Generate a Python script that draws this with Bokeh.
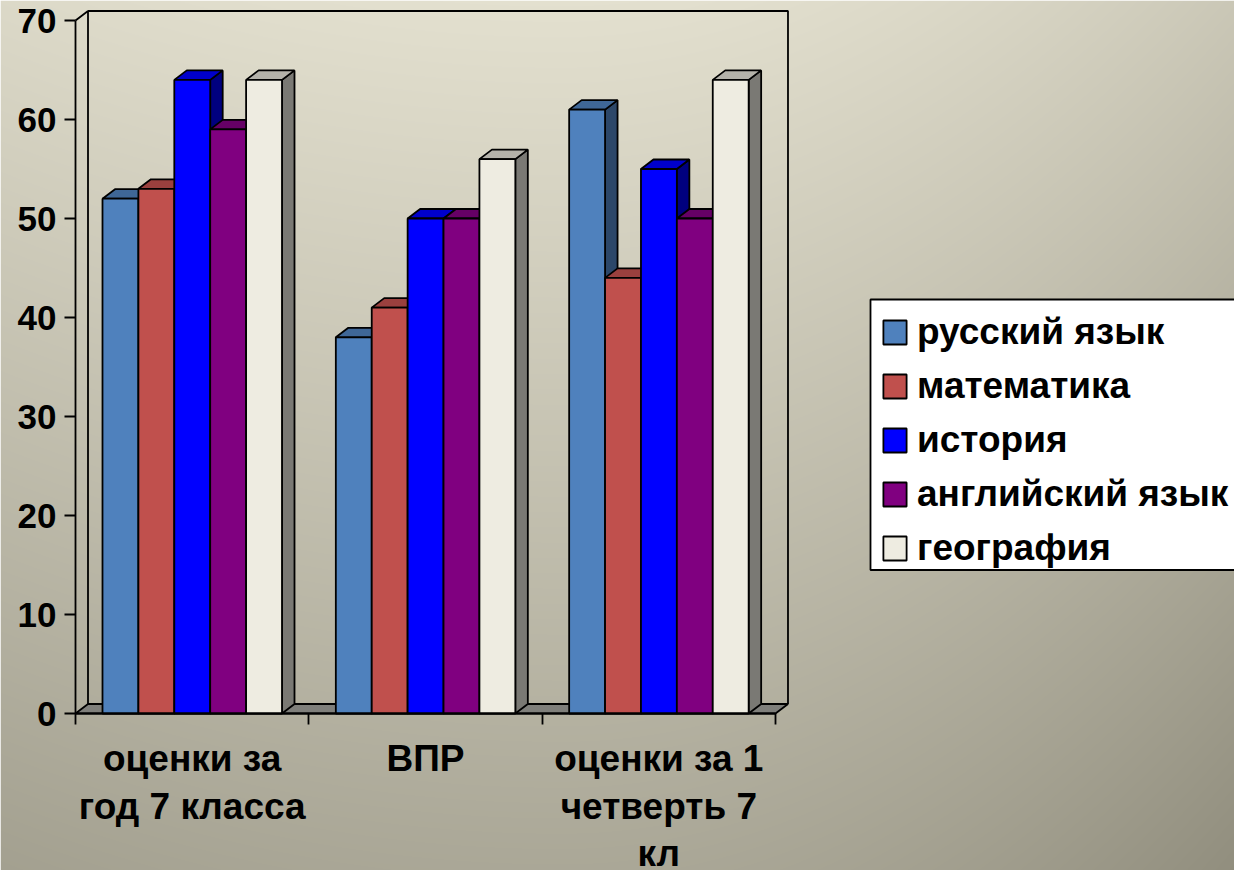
import numpy as np
from bokeh.plotting import figure
from bokeh.models import Range1d, LinearAxis, FixedTicker, Legend, LegendItem, BoxAnnotation
from bokeh.core.properties import value
from bokeh.embed import file_html
from bokeh.resources import INLINE

categories = ["оценки за\nгод 7 класса", "ВПР", "оценки за 1\nчетверть 7\nкл"]
series_names = ["русский язык", "математика", "история", "английский язык", "география"]
russian = [52, 38, 61]
maths = [53, 41, 44]
history = [64, 50, 55]
english = [59, 50, 50]
geography = [64, 56, 64]
series_values = [russian, maths, history, english, geography]
front_colors = ["#4F81BD", "#C0504D", "#0000FF", "#800080", "#EEECE1"]
top_colors = ["#3F6797", "#9A403E", "#0000CC", "#660066", "#B4B2AA"]
side_colors = ["#2C4769", "#6B2C2B", "#00007F", "#470047", "#7A7974"]
y_ticks = [0, 10, 20, 30, 40, 50, 60, 70]

W, H = 1234, 870
X0, PX_CAT = 75.0, 233.33
Y0, PX_VAL = 713.0, 9.9
dx, dy = 12.5 / PX_CAT, 9.5 / PX_VAL
gap, bar_w = 27 / PX_CAT, 35.9 / PX_CAT
FONT = "Liberation Sans"
TEXT_PX = "37px"

p = figure(width=W, height=H, output_backend="svg", toolbar_location=None,
           x_axis_location=None, y_axis_location=None,
           x_range=Range1d(-X0 / PX_CAT, (W - X0) / PX_CAT),
           y_range=Range1d((Y0 - H) / PX_VAL, Y0 / PX_VAL),
           min_border=0, outline_line_color=None)
p.grid.visible = False

# background gradient: light at top centre, dark towards lower right
yy, xx = np.mgrid[0:H, 0:W]
ux = (xx - 560) / 700.0
t = 0.66 * (yy + 40) / 910.0 + np.where(ux > 0, 0.30, 0.125) * ux ** 2
t = np.clip(t, 0, 1)
c0, c1 = np.array([0xE6, 0xE3, 0xD2]), np.array([0x8C, 0x89, 0x79])
img = np.zeros((H, W), dtype=np.uint32)
v = img.view(np.uint8).reshape((H, W, 4))
for k in range(3):
    v[:, :, k] = (c0[k] + (c1[k] - c0[k]) * t)[::-1]
v[:, :, 3] = 255
p.image_rgba(image=[img], x=[p.x_range.start], y=[p.y_range.start],
             dw=[p.x_range.end - p.x_range.start], dh=[p.y_range.end - p.y_range.start])

n = len(categories)
top = y_ticks[-1]
LW = 1.8
# floor
p.patch([0, dx, n + dx, n], [0, dy, dy, 0], fill_color="#7F7F7B", line_color="black", line_width=LW)
# walls
p.line([0, dx, dx], [top, top + dy, dy], line_color="black", line_width=LW)
p.line([dx, n + dx, n + dx], [top + dy, top + dy, dy], line_color="black", line_width=LW)

renderers = []
for i, vals in enumerate(series_values):
    lefts = [g + gap + i * bar_w for g in range(n)]
    rights = [l + bar_w for l in lefts]
    p.patches([[r, r + dx, r + dx, r] for r in rights],
              [[0, dy, y + dy, y] for y in vals],
              fill_color=side_colors[i], line_color="black", line_width=LW)
    p.patches([[l, l + dx, r + dx, r] for l, r in zip(lefts, rights)],
              [[y, y + dy, y + dy, y] for y in vals],
              fill_color=top_colors[i], line_color="black", line_width=LW)
    r = p.quad(left=lefts, right=rights, bottom=[0] * n, top=vals,
               fill_color=front_colors[i], line_color="black", line_width=LW)
    renderers.append(r)

yaxis = LinearAxis(fixed_location=0, ticker=FixedTicker(ticks=y_ticks), bounds=(0, top))
yaxis.axis_line_color = "black"
yaxis.axis_line_width = LW
yaxis.major_tick_line_color = "black"
yaxis.major_tick_line_width = LW
yaxis.major_tick_in = 0
yaxis.major_tick_out = 11
yaxis.minor_tick_line_color = None
yaxis.major_label_standoff = 8
yaxis.major_label_text_font = FONT
yaxis.major_label_text_font_style = "bold"
yaxis.major_label_text_font_size = "35px"
yaxis.major_label_text_color = "black"
p.add_layout(yaxis, "left")

xaxis = LinearAxis(fixed_location=0, ticker=FixedTicker(ticks=list(range(n + 1))), bounds=(0, n))
xaxis.axis_line_color = "black"
xaxis.axis_line_width = LW
xaxis.major_tick_line_color = "black"
xaxis.major_tick_line_width = LW
xaxis.major_tick_in = 0
xaxis.major_tick_out = 11
xaxis.minor_tick_line_color = None
xaxis.major_label_text_font_size = "0px"
xaxis.major_label_text_color = None
p.add_layout(xaxis, "below")

# category labels
LINE1 = (Y0 - 758) / PX_VAL
STEP = 47.5 / PX_VAL
tx, ty, tt = [], [], []
for g, cat in enumerate(categories):
    for j, line in enumerate(cat.split("\n")):
        tx.append(g + 0.5)
        ty.append(LINE1 - j * STEP)
        tt.append(line)
p.text(tx, ty, text=tt, text_font=value(FONT), text_font_style="bold",
       text_font_size=TEXT_PX, text_align="center", text_baseline="alphabetic", text_color="black")

box = BoxAnnotation(left=870, right=1250, top=300.5, bottom=571,
                    left_units="screen", right_units="screen", top_units="screen", bottom_units="screen",
                    fill_color="white", fill_alpha=1, line_color="black", line_alpha=1, line_width=LW,
                    editable=False)
p.add_layout(box)

legend = Legend(items=[LegendItem(label=name, renderers=[r]) for name, r in zip(series_names, renderers)],
                location=(880, H - 569), orientation="vertical",
                glyph_width=29, glyph_height=30, label_standoff=8, spacing=12,
                padding=0, margin=0,
                label_text_font=FONT, label_text_font_style="bold", label_text_font_size=TEXT_PX,
                label_text_color="black", background_fill_alpha=0, border_line_color=None)
p.add_layout(legend)

html = file_html(p, INLINE)
html = html.replace("<head>", "<head><style>html,body{margin:0;padding:0;overflow:hidden}</style>", 1)
open("out.html", "w").write(html)
